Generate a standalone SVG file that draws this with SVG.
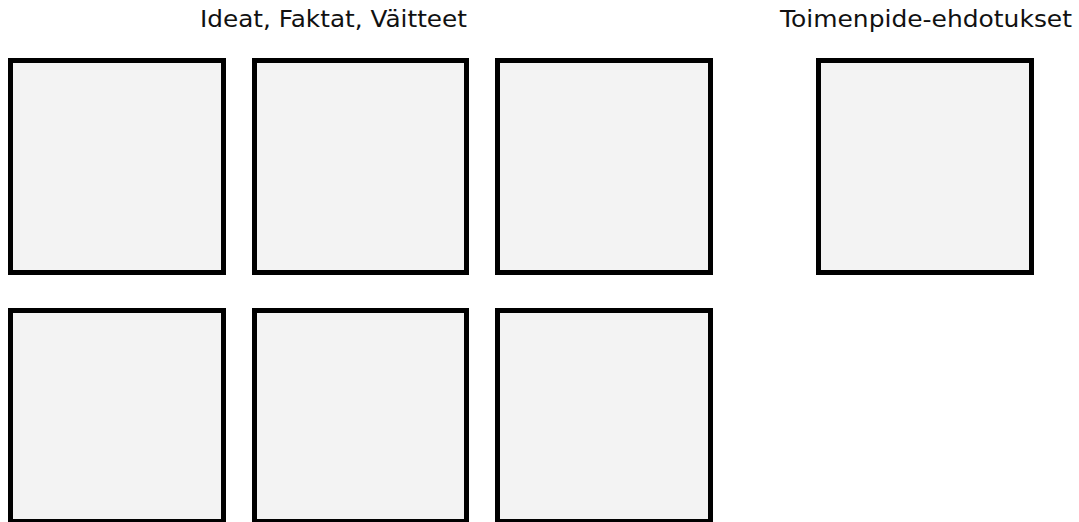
<svg xmlns="http://www.w3.org/2000/svg" width="1079" height="522" viewBox="0 0 1079 522">
<style>
.box{fill:#f3f3f3;stroke:#000;stroke-width:5}
.lbl{font-family:"DejaVu Sans",Verdana,sans-serif;font-size:23.5px;fill:#111}
</style>
<rect width="1079" height="522" fill="#fff"/>
<g id="labels">
<text class="lbl" x="200" y="27" textLength="267" lengthAdjust="spacingAndGlyphs">Ideat, Faktat, Väitteet</text>
<text class="lbl" x="780" y="27" textLength="292" lengthAdjust="spacingAndGlyphs">Toimenpide-ehdotukset</text>
</g>
<g id="node1"><rect class="box" x="10.5" y="60.5" width="213" height="212"/></g>
<g id="node2"><rect class="box" x="254.5" y="60.5" width="212" height="212"/></g>
<g id="node3"><rect class="box" x="497.5" y="60.5" width="213" height="212"/></g>
<g id="node4"><rect class="box" x="818.5" y="60.5" width="213" height="212"/></g>
<g id="node5"><rect class="box" x="10.5" y="310.5" width="213" height="211"/></g>
<g id="node6"><rect class="box" x="254.5" y="310.5" width="212" height="211"/></g>
<g id="node7"><rect class="box" x="497.5" y="310.5" width="213" height="211"/></g>
<g id="connectors"></g>
</svg>
